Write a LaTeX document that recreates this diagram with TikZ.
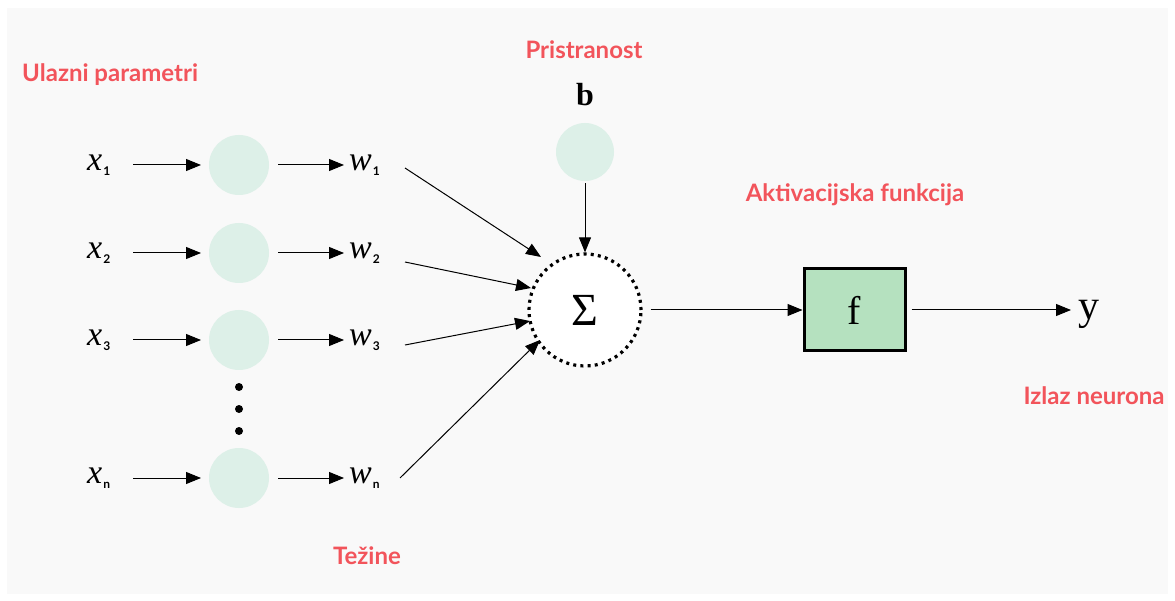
\documentclass[tikz,border=0pt]{standalone}
\usepackage{fontspec}
\setmainfont{Liberation Serif}
\newfontfamily\lblfont{Lato}
\usetikzlibrary{arrows.meta}
\definecolor{lblred}{HTML}{F2545B}
\definecolor{nodegreen}{HTML}{DDF0E8}
\definecolor{boxgreen}{HTML}{B5E1BF}
\definecolor{panel}{HTML}{F9F9F9}
\tikzset{
  lbl/.style={text=lblred, font=\lblfont\bfseries\fontsize{24}{28}\selectfont, inner sep=0pt},
  innode/.style={circle, fill=nodegreen, minimum size=60pt, inner sep=0pt},
  var/.style={font=\itshape\fontsize{34}{36}\selectfont, inner sep=0pt},
  arr/.style={-{Triangle[length=15pt,width=12pt]}, line width=1pt, black},
}
\newcommand{\xsub}[2]{#1\kern1pt\raisebox{-5pt}{\lblfont\bfseries\fontsize{12}{13}\selectfont\upshape #2}}
\begin{document}
\begin{tikzpicture}[x=1pt,y=-1pt]
\useasboundingbox (0,0) rectangle (1175,601);
\fill[white] (0,0) rectangle (1175,601);
\fill[panel] (7,8) rectangle (1168,594);

% labels
\node[lbl, anchor=west] (ulazni) at (22,75) {Ulazni parametri};
\node[lbl] (pristranost) at (584,50) {Pristranost};
\node[lbl] (aktiv) at (855,195) {Aktivacijska funkcija};
\node[lbl] (izlaz) at (1094,396) {Izlaz neurona};
\node[lbl] (tezine) at (367,556) {Težine};

% bias
\node[font=\bfseries\fontsize{32}{34}\selectfont, inner sep=0pt] (b) at (585,95) {b};
\node[innode, minimum size=58pt] (bc) at (585,152) {};

% inputs
\foreach \i/\yy/\s in {1/165/1, 2/253/2, 3/340/3, n/478/n}{
  \node[var, anchor=west] (x\i) at (87,\yy) {\xsub{x}{\s}};
  \node[innode] (c\i) at (239,\yy) {};
  \node[var, anchor=west] (w\i) at (349,\yy) {\xsub{w}{\s}};
}
\foreach \i/\yy in {1/165, 2/253, 3/340, n/478}{
  \coordinate (xs\i) at (133,\yy);
  \coordinate (xe\i) at (201,\yy);
  \coordinate (ws\i) at (278,\yy);
  \coordinate (we\i) at (344,\yy);
  \draw[arr] (xs\i) -- (xe\i);
  \draw[arr] (ws\i) -- (we\i);
}
% dots
\foreach \yy [count=\k] in {387,409,431}{
  \fill (239,\yy) circle (4pt) coordinate (dot\k);
}

% sum node
\node[circle, minimum size=112pt, inner sep=0pt, fill=white, draw=black, line width=3.2pt, dash pattern=on 3pt off 4.2pt, font=\fontsize{46}{48}\selectfont] (sum) at (585,310) {Σ};

\coordinate (w1o) at (405,168);
\coordinate (w2o) at (405,262);
\coordinate (w3o) at (405,345);
\coordinate (wno) at (400,478);
\draw[arr] (w1o) -- (541,257);
\draw[arr] (w2o) -- (531,288);
\draw[arr] (w3o) -- (530,321);
\draw[arr] (wno) -- (540,340);
\draw[arr] (bc.south) ++(0,2) -- (sum.north);

% activation box
\node[draw=black, line width=3pt, fill=boxgreen, minimum width=101pt, minimum height=82pt, inner sep=0pt, font=\fontsize{40}{42}\selectfont] (f) at (854.5,310) {f};
\draw[arr] (sum.east) ++(8,0) coordinate (se) -- (f.west);
\node[font=\fontsize{42}{44}\selectfont, inner sep=0pt] (y) at (1089,314) {y};
\draw[arr] (f.east) ++(5,0) -- (1071,310);
\end{tikzpicture}
\end{document}
